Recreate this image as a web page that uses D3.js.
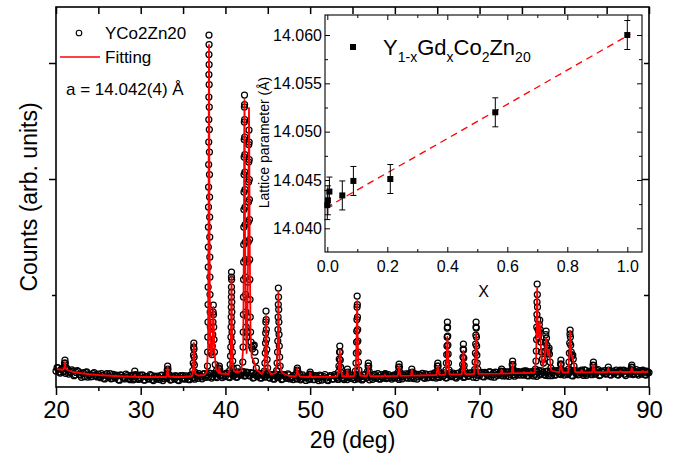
<!DOCTYPE html>
<html><head><meta charset="utf-8">
<script src="https://cdn.jsdelivr.net/npm/d3@7"></script>
<style>
body{margin:0;background:#fff}
svg{display:block}
text{font-family:"Liberation Sans",Arial,Helvetica,sans-serif;fill:#000}
</style>
</head><body>
<svg id="chart" width="679" height="465"></svg>
<script>
// ---------- main XRD pattern data ----------
const xMajorTicks = [20, 30, 40, 50, 60, 70, 80, 90];
const xMinorTicks = [25, 35, 45, 55, 65, 75, 85];
const xTopTicks = [20, 25, 30, 35, 40, 45, 50, 55, 60, 65, 70, 75, 80, 85, 90];
const yMajorTicks = [4160, 6480];
const yMinorTicks = [1840];

// observed background scan (2θ from scanStart in steps of scanStep), counts
const scanStart = 20, scanStep = 0.25;
const bgCounts = [
 320,385,280,355,320,380,260,310,320,244,328,251,195,280,295,200,255,211,287,223,
 260,187,235,162,270,207,165,252,180,228,136,234,182,260,198,146,215,163,232,151,
 180,240,140,210,160,230,130,200,220,150,240,170,190,250,140,220,160,210,130,230,
 230,162,205,147,230,185,260,175,240,165,270,225,200,270,210,260,190,290,230,220,
 210,270,190,280,230,200,300,240,290,220,300,230,290,180,245,210,275,180,240,210,
 260,180,228,156,244,192,260,158,226,174,242,190,148,226,165,254,173,202,131,220,
 170,240,150,210,130,220,180,250,140,200,230,160,222,154,246,178,150,220,190,240,
 230,150,241,181,212,162,253,193,144,224,245,175,266,156,207,237,168,248,189,219,
 180,231,152,253,204,265,176,227,248,169,260,201,222,273,174,245,196,257,188,269,
 250,191,272,223,184,265,286,207,248,179,280,241,302,203,264,225,276,197,298,239,
 230,291,202,273,224,305,246,197,288,259,320,221,272,303,214,295,246,317,238,289,
 300,240,321,221,282,312,253,213,334,264,295,235,316,276,227,327,248,308,259,289,
 240,310,271,331,222,302,323,253,294,234,335,265,316,246,307,277,348,238,299,329,
 270,340,240,320,290,250,330,280,340,230,310,260,320,270,350,240,300,330,250,310,
 290
];
// interleaved scan points (2θ from scanStart2 in steps of scanStep), counts
const scanStart2 = 20.125;
const bgCounts2 = [
 387,302,357,312,275,345,295,345,227,291,314,238,282,207,302,237,203,269,235,201,
 208,266,173,241,208,266,173,221,239,147,245,193,161,229,167,235,144,212,171,240,
 240,140,210,170,250,150,220,160,190,230,130,210,180,240,150,200,230,140,220,170,
 161,223,156,238,192,157,232,267,202,257,192,247,280,180,270,210,290,230,190,260,
 280,200,270,230,290,195,265,245,310,230,285,225,275,188,272,228,182,270,200,250,
 190,249,167,265,193,231,149,247,195,263,161,209,237,165,224,143,242,181,210,150,
 220,150,230,170,240,140,210,180,130,230,160,250,191,153,225,177,249,150,210,170,
 190,250,161,221,142,242,183,233,204,154,255,195,166,246,177,267,188,218,159,239,
 250,181,242,163,234,195,266,177,208,259,160,251,232,193,264,185,246,207,278,179,
 200,261,212,283,184,245,226,277,198,269,220,301,192,263,214,285,246,297,188,279,
 280,211,292,243,304,205,276,297,228,259,240,311,222,293,254,325,216,277,308,239,
 250,320,231,301,262,222,313,293,244,324,255,305,226,316,287,237,328,268,249,319,
 320,250,301,231,332,272,243,313,264,344,235,295,276,336,257,327,228,318,289,259,
 320,250,310,270,340,240,300,330,260,320,280,350,250,310,270,330,260,320,240,300
];

// observed points on the Bragg peaks [2θ, counts]
const peakObs = [
 [20.95,400],[21.0,480],[21.06,540],[21.1,480],[21.16,390],
 [29.2,240],[29.3,320],[29.4,250],
 [33.08,260],[33.13,340],[33.18,420],[33.22,360],[33.28,260],
 [36.15,330],[36.2,480],[36.23,640],[36.25,800],[36.27,880],[36.29,760],[36.31,600],[36.34,440],[36.4,300],
 [37.88,420],[37.9,700],[37.92,1000],[37.94,1300],[37.95,1650],[37.96,2000],[37.97,2400],[37.98,2800],[37.99,3200],
 [38.0,3600],[38.01,4000],[38.02,4450],[38.03,4900],[38.04,5350],[38.045,5800],[38.05,6250],[38.055,6650],[38.06,7040],
 [38.07,6850],[38.075,6450],[38.08,6050],[38.09,5600],[38.1,5150],[38.11,4700],[38.12,4250],[38.13,3800],[38.14,3400],
 [38.15,3000],[38.16,2600],[38.17,2200],[38.18,1850],[38.2,1500],[38.22,1200],[38.25,900],[38.3,700],
 [38.4,650],[38.45,820],[38.5,1050],[38.53,1300],[38.55,1500],[38.57,1640],[38.59,1450],[38.62,1200],[38.65,950],[38.7,700],[38.8,450],[38.95,330],
 [39.18,300],[39.24,380],[39.28,420],[39.33,350],
 [40.5,330],[40.56,450],[40.6,620],[40.63,800],[40.65,1000],[40.67,1200],[40.68,1400],[40.69,1600],[40.7,1800],[40.71,2000],[40.715,2200],[40.72,2300],
 [40.73,2150],[40.74,1900],[40.75,1700],[40.76,1500],[40.77,1300],[40.78,1100],[40.8,900],[40.82,700],[40.86,520],[40.92,380],
 [41.32,280],[41.4,380],[41.47,300],
 [42.05,500],[42.08,800],[42.1,1100],[42.12,1450],[42.13,1800],[42.14,2150],[42.15,2500],[42.16,2850],[42.17,3200],[42.18,3550],
 [42.19,3900],[42.2,4250],[42.21,4600],[42.22,4950],[42.23,5300],[42.24,5600],[42.25,5840],
 [42.26,5650],[42.27,5350],[42.28,5000],[42.29,4650],[42.3,4300],[42.31,3950],[42.32,3600],[42.33,3250],[42.34,2900],[42.35,2550],
 [42.37,2200],[42.39,1850],[42.42,1500],[42.45,1200],[42.5,1000],
 [42.55,1100],[42.6,1400],[42.63,1750],[42.65,2100],[42.67,2500],[42.69,2900],[42.7,3300],[42.72,3700],[42.73,4100],[42.75,4500],[42.76,4850],[42.78,5140],
 [42.8,4900],[42.81,4550],[42.82,4150],[42.83,3750],[42.84,3350],[42.85,2950],[42.86,2550],[42.88,2150],[42.9,1750],[42.93,1400],[42.97,1100],[43.02,900],
 [43.1,800],[43.2,760],[43.3,820],[43.4,840],[43.48,700],[43.55,520],[43.65,380],
 [44.6,320],[44.66,480],[44.7,680],[44.73,880],[44.75,1080],[44.77,1300],[44.79,1520],[44.81,1350],[44.83,1150],[44.85,950],[44.88,750],[44.92,550],[44.98,380],
 [46.05,330],[46.1,480],[46.15,700],[46.18,920],[46.2,1150],[46.22,1400],[46.24,1650],[46.25,1980],[46.27,1800],[46.29,1550],[46.31,1300],[46.33,1050],[46.36,820],[46.4,600],[46.46,420],
 [48.4,280],[48.46,340],[48.49,380],[48.54,320],
 [49.95,260],[50.0,300],[50.05,250],
 [53.35,300],[53.4,420],[53.44,560],[53.47,700],[53.5,820],[53.53,700],[53.56,540],[53.6,400],[53.66,290],
 [54.32,290],[54.4,360],[54.47,300],
 [55.35,320],[55.41,480],[55.45,680],[55.48,900],[55.5,1120],[55.52,1350],[55.54,1600],[55.55,1820],[55.57,1650],[55.59,1400],[55.61,1150],[55.63,920],[55.66,700],[55.7,500],[55.76,340],
 [56.78,320],[56.83,420],[56.87,480],[56.91,420],[56.96,320],
 [58.8,240],[58.84,260],[58.9,230],
 [60.4,300],[60.45,400],[60.5,460],[60.54,400],[60.6,300],
 [61.92,290],[62.0,360],[62.07,300],
 [64.97,320],[65.02,420],[65.07,480],[65.11,420],[65.17,320],
 [66.02,340],[66.08,480],[66.12,650],[66.15,820],[66.17,1000],[66.19,1180],[66.2,1300],[66.22,1200],[66.24,1020],[66.26,840],[66.29,660],[66.33,480],[66.4,340],
 [67.95,330],[68.0,450],[68.04,600],[68.07,760],[68.09,860],[68.11,740],[68.14,580],[68.18,430],[68.25,320],
 [69.42,350],[69.47,500],[69.51,680],[69.54,860],[69.56,1040],[69.58,1200],[69.59,1300],[69.61,1180],[69.63,1000],[69.65,820],[69.68,640],[69.72,480],[69.78,360],
 [72.52,300],[72.6,360],[72.67,310],
 [73.8,340],[73.85,450],[73.9,520],[73.94,450],[74.0,340],
 [75.15,290],[75.2,320],[75.26,290],
 [76.6,360],[76.66,520],[76.7,720],[76.73,950],[76.75,1200],[76.77,1450],[76.78,1700],[76.8,2060],[76.82,1850],[76.84,1600],[76.86,1350],[76.9,1150],
 [76.95,1000],[77.0,1100],[77.05,1250],[77.1,1340],[77.15,1150],[77.22,900],[77.3,700],[77.4,560],[77.55,480],[77.65,560],[77.72,720],[77.77,900],
 [77.82,1050],[77.85,1120],[77.9,980],[77.95,840],[78.02,720],[78.1,680],[78.15,740],[78.2,780],[78.25,660],[78.32,500],[78.42,380],
 [79.5,340],[79.55,460],[79.6,540],[79.64,460],[79.7,340],
 [80.5,360],[80.56,500],[80.6,680],[80.64,880],[80.67,1060],[80.69,1140],[80.72,1000],[80.76,840],[80.82,700],[80.9,620],[81.0,640],[81.06,560],[81.14,420],[81.25,320],
 [81.98,300],[82.06,340],[82.12,300],
 [83.34,330],[83.39,440],[83.44,500],[83.48,430],[83.54,330],
 [85.12,330],[85.2,400],[85.27,330],
 [86.52,310],[86.6,340],[86.67,310],
 [87.88,330],[87.93,400],[87.97,440],[88.02,390],[88.08,320],
 [89.2,310],[89.27,340],[89.33,310],
 [89.68,300],[89.74,320],[89.8,300]
];

// calculated (fitting) profile [2θ, counts]
const fitCalc = [
 [20.0,360],[20.5,350],[20.8,345],[20.98,380],[21.03,440],[21.06,500],[21.09,440],[21.14,375],[21.4,335],[22,300],[23,275],[24,255],
 [25,240],[26,230],[27,220],[28,212],[29,205],[29.2,205],[29.3,240],[29.4,205],[30,200],[31,200],[32,200],[33,200],
 [33.05,210],[33.13,290],[33.18,400],[33.23,290],[33.32,210],[34,200],[35,200],[36,215],[36.1,240],[36.2,400],[36.24,700],[36.27,880],
 [36.3,700],[36.34,400],[36.45,260],[36.8,230],[37.5,240],[37.8,300],[37.95,800],[38.01,3500],[38.04,6000],[38.06,6840],[38.08,6000],
 [38.11,3500],[38.18,1000],[38.3,600],[38.45,800],[38.52,1200],[38.57,1600],[38.62,1200],[38.7,700],[38.9,350],[39.2,280],[39.25,340],
 [39.28,400],[39.31,340],[39.4,270],[40.4,260],[40.6,500],[40.67,1200],[40.72,2200],[40.77,1200],[40.85,500],[41.0,320],[41.3,290],
 [41.4,340],[41.5,290],[41.9,330],[42.1,800],[42.18,3000],[42.22,5000],[42.25,5740],[42.28,5000],[42.32,3000],[42.42,1200],[42.5,680],
 [42.58,1100],[42.7,3000],[42.75,5000],[42.78,5580],[42.81,5000],[42.86,3000],[42.96,1100],[43.1,600],[43.4,500],[43.6,350],[44.3,260],
 [44.6,360],[44.72,800],[44.79,1420],[44.86,800],[45.0,360],[45.4,250],[45.9,280],[46.1,500],[46.2,1100],[46.25,1900],[46.3,1100],
 [46.4,500],[46.7,280],[47.5,220],[48.3,210],[48.42,280],[48.49,380],[48.56,280],[48.8,210],[49.9,200],[50.0,280],[50.1,200],
 [53.2,210],[53.4,380],[53.46,580],[53.5,740],[53.54,580],[53.6,380],[53.8,220],[54.3,210],[54.4,340],[54.5,210],[55.2,220],
 [55.42,500],[55.5,1100],[55.55,1720],[55.6,1100],[55.68,500],[55.9,230],[56.7,215],[56.8,300],[56.87,420],[56.94,300],[57.1,215],
 [58.75,218],[58.84,240],[58.93,218],[60.35,222],[60.45,340],[60.5,420],[60.55,340],[60.65,222],[61.9,228],[62.0,340],[62.1,228],
 [64.9,240],[65.0,340],[65.07,420],[65.14,340],[65.25,242],[65.95,245],[66.1,500],[66.16,800],[66.2,1000],[66.24,800],[66.3,500],
 [66.45,250],[67.9,255],[68.02,450],[68.06,620],[68.09,720],[68.12,620],[68.16,450],[68.3,255],[69.35,260],[69.5,560],[69.55,850],
 [69.59,1060],[69.63,850],[69.68,560],[69.85,262],[72.5,268],[72.6,340],[72.7,268],[73.8,275],[73.86,400],[73.9,480],[73.94,400],
 [74.0,276],[75.12,280],[75.2,300],[75.28,280],[76.5,285],[76.68,600],[76.75,1300],[76.8,1980],[76.85,1300],[76.95,1000],[77.05,1200],
 [77.1,1300],[77.15,1100],[77.3,600],[77.5,430],[77.7,600],[77.8,850],[77.85,980],[77.9,850],[78.05,640],[78.15,700],[78.2,740],
 [78.25,640],[78.45,330],[79.4,290],[79.52,380],[79.6,480],[79.68,380],[79.8,290],[80.45,290],[80.6,650],[80.65,950],[80.69,1120],
 [80.74,900],[80.85,620],[80.95,580],[81.0,600],[81.08,500],[81.3,300],[81.95,294],[82.06,340],[82.15,294],[83.3,296],[83.38,380],
 [83.44,440],[83.5,380],[83.6,297],[85.1,300],[85.2,380],[85.3,300],[86.5,300],[86.6,320],[86.7,300],[87.85,300],[87.92,350],
 [87.97,380],[88.02,350],[88.1,300],[89.18,300],[89.27,320],[89.35,300],[89.65,300],[89.74,310],[89.82,300],[90,300]
];

const legendLabels = ["YCo2Zn20", "Fitting"];
const latticeNote = "a = 14.042(4) Å";
const xTitle = "2θ (deg)";
const yTitle = "Counts (arb. units)";

// ---------- inset data ----------
const gdX = [0, 0.002, 0.007, 0.05, 0.087, 0.21, 0.56, 1.0];
const latA = [14.0424, 14.0429, 14.0438, 14.0434, 14.0449, 14.0451, 14.0520, 14.0600];
const latErr = [0.0015, 0.0015, 0.0015, 0.0015, 0.0015, 0.0015, 0.0015, 0.0015];
const linFitX = [-0.005, 1.01];
const linFitA = [14.04211, 14.06009];
const insetXTicks = [0, 0.2, 0.4, 0.6, 0.8, 1.0];
const insetXMinor = [0.1, 0.3, 0.5, 0.7, 0.9];
const insetYTicks = [14.040, 14.045, 14.050, 14.055, 14.060];
const insetYMinor = [14.0425, 14.0475, 14.0525, 14.0575];

// ---------- drawing ----------
const svg = d3.select("#chart");
svg.append("rect").attr("width", 679).attr("height", 465).attr("fill", "#fff");

const L = 56, R = 649, T = 7, B = 387;
const x = d3.scaleLinear().domain([20, 90]).range([L, R]);
const y = d3.scaleLinear().domain([0, 7600]).range([B, T]);

const obsPts = bgCounts.map((c, i) => [scanStart + i * scanStep, c])
  .concat(bgCounts2.map((c, i) => [scanStart2 + i * scanStep, c]))
  .concat(peakObs);

const gData = svg.append("g");
gData.selectAll("circle.obs").data(obsPts).enter().append("circle")
  .attr("class", "obs")
  .attr("cx", d => x(d[0])).attr("cy", d => y(d[1])).attr("r", 3)
  .attr("fill", "none").attr("stroke", "#000").attr("stroke-width", 1.25);

gData.append("path").datum(fitCalc)
  .attr("d", d3.line().x(d => x(d[0])).y(d => y(d[1])))
  .attr("fill", "none").attr("stroke", "#ff0000").attr("stroke-width", 1.8)
  .attr("stroke-linejoin", "round");

// axes main
function styleAxis(g) {
  g.select(".domain").remove();
  g.selectAll(".tick line").attr("stroke", "#000").attr("stroke-width", 1.5);
}
svg.append("g").attr("transform", `translate(0,${B})`)
  .call(d3.axisBottom(x).tickValues(xMajorTicks).tickSize(8).tickPadding(6).tickFormat(d3.format("d")))
  .call(styleAxis)
  .call(g => g.selectAll("text").attr("font-size", 24).attr("font-family", "Liberation Sans, Arial, sans-serif"));
svg.append("g").attr("transform", `translate(0,${B})`)
  .call(d3.axisBottom(x).tickValues(xMinorTicks).tickSize(4).tickFormat(""))
  .call(styleAxis);
svg.append("g").attr("transform", `translate(0,${T})`)
  .call(d3.axisBottom(x).tickValues(xTopTicks).tickSize(7).tickFormat(""))
  .call(styleAxis);
svg.append("g").attr("transform", `translate(${L},0)`)
  .call(d3.axisLeft(y).tickValues(yMajorTicks).tickSize(7).tickFormat(""))
  .call(styleAxis);
svg.append("g").attr("transform", `translate(${L},0)`)
  .call(d3.axisLeft(y).tickValues(yMinorTicks).tickSize(4).tickFormat(""))
  .call(styleAxis);
svg.append("g").attr("transform", `translate(${R},0)`)
  .call(d3.axisLeft(y).tickValues([4160]).tickSize(7).tickFormat(""))
  .call(styleAxis);
svg.append("g").attr("transform", `translate(${R},0)`)
  .call(d3.axisLeft(y).tickValues([1840, 6480]).tickSize(5).tickFormat(""))
  .call(styleAxis);

svg.append("rect").attr("x", L).attr("y", T).attr("width", R - L).attr("height", B - T)
  .attr("fill", "none").attr("stroke", "#000").attr("stroke-width", 1.6);

svg.append("text").attr("x", (L + R) / 2).attr("y", 448).attr("text-anchor", "middle")
  .attr("font-size", 23).text(xTitle);
svg.append("text").attr("transform", `translate(29,${(T + B) / 2}) rotate(-90)`)
  .attr("text-anchor", "middle").attr("dy", "0.35em").attr("font-size", 23).text(yTitle);

// legend
svg.append("circle").attr("cx", 79).attr("cy", 33).attr("r", 2.8)
  .attr("fill", "none").attr("stroke", "#000").attr("stroke-width", 1.1);
svg.append("text").attr("x", 105).attr("y", 39).attr("font-size", 17).text(legendLabels[0]);
svg.append("line").attr("x1", 60).attr("x2", 100).attr("y1", 57).attr("y2", 57)
  .attr("stroke", "#ff0000").attr("stroke-width", 1.5);
svg.append("text").attr("x", 105).attr("y", 63).attr("font-size", 17).text(legendLabels[1]);
svg.append("text").attr("x", 66).attr("y", 95).attr("font-size", 17).text(latticeNote);

// ---------- inset ----------
const iL = 325, iR = 642, iT = 15, iB = 252;
const xi = d3.scaleLinear().domain([0, 1]).range([327.3, 627.3]);
const yi = d3.scaleLinear().domain([14.040, 14.060]).range([228.3, 35]);
const gi = svg.append("g");
gi.append("rect").attr("x", iL).attr("y", iT).attr("width", iR - iL).attr("height", iB - iT)
  .attr("fill", "#fff").attr("stroke", "none");

function styleInset(g) {
  g.select(".domain").remove();
  g.selectAll(".tick line").attr("stroke", "#000").attr("stroke-width", 1);
  g.selectAll("text").attr("font-size", 16).attr("font-family", "Liberation Sans, Arial, sans-serif");
}
// inward ticks
gi.append("g").attr("transform", `translate(0,${iB})`)
  .call(d3.axisTop(xi).tickValues(insetXTicks).tickSize(5).tickFormat("")).call(styleInset);
gi.append("g").attr("transform", `translate(0,${iB})`)
  .call(d3.axisTop(xi).tickValues(insetXMinor).tickSize(3).tickFormat("")).call(styleInset);
gi.append("g").attr("transform", `translate(0,${iT})`)
  .call(d3.axisBottom(xi).tickValues(insetXTicks).tickSize(5).tickFormat("")).call(styleInset);
gi.append("g").attr("transform", `translate(0,${iT})`)
  .call(d3.axisBottom(xi).tickValues(insetXMinor).tickSize(3).tickFormat("")).call(styleInset);
gi.append("g").attr("transform", `translate(${iL},0)`)
  .call(d3.axisRight(yi).tickValues(insetYTicks).tickSize(5).tickFormat("")).call(styleInset);
gi.append("g").attr("transform", `translate(${iL},0)`)
  .call(d3.axisRight(yi).tickValues(insetYMinor).tickSize(3).tickFormat("")).call(styleInset);
gi.append("g").attr("transform", `translate(${iR},0)`)
  .call(d3.axisLeft(yi).tickValues(insetYTicks).tickSize(5).tickFormat("")).call(styleInset);
gi.append("g").attr("transform", `translate(${iR},0)`)
  .call(d3.axisLeft(yi).tickValues(insetYMinor).tickSize(3).tickFormat("")).call(styleInset);
// labels
gi.append("g").attr("transform", `translate(0,${iB})`)
  .call(d3.axisBottom(xi).tickValues(insetXTicks).tickSize(0).tickPadding(9).tickFormat(d3.format(".1f")))
  .call(styleInset);
gi.append("g").attr("transform", `translate(${iL},0)`)
  .call(d3.axisLeft(yi).tickValues(insetYTicks).tickSize(0).tickPadding(3).tickFormat(d3.format(".3f")))
  .call(styleInset);

gi.append("rect").attr("x", iL).attr("y", iT).attr("width", iR - iL).attr("height", iB - iT)
  .attr("fill", "none").attr("stroke", "#000").attr("stroke-width", 1.1);

// linear fit dashed
gi.append("path").datum(linFitX.map((v, i) => [v, linFitA[i]]))
  .attr("d", d3.line().x(d => xi(d[0])).y(d => yi(d[1])))
  .attr("fill", "none").attr("stroke", "#ff0000").attr("stroke-width", 1.3)
  .attr("stroke-dasharray", "7,5");

// error bars
const pts = gdX.map((v, i) => ({x: v, a: latA[i], e: latErr[i]}));
const eb = gi.selectAll("g.eb").data(pts).enter().append("g");
eb.append("line").attr("x1", d => xi(d.x)).attr("x2", d => xi(d.x))
  .attr("y1", d => yi(d.a - d.e)).attr("y2", d => yi(d.a + d.e)).attr("stroke", "#000").attr("stroke-width", 1);
eb.append("line").attr("x1", d => xi(d.x) - 3).attr("x2", d => xi(d.x) + 3)
  .attr("y1", d => yi(d.a - d.e)).attr("y2", d => yi(d.a - d.e)).attr("stroke", "#000").attr("stroke-width", 1);
eb.append("line").attr("x1", d => xi(d.x) - 3).attr("x2", d => xi(d.x) + 3)
  .attr("y1", d => yi(d.a + d.e)).attr("y2", d => yi(d.a + d.e)).attr("stroke", "#000").attr("stroke-width", 1);
eb.append("rect").attr("x", d => xi(d.x) - 3).attr("y", d => yi(d.a) - 3)
  .attr("width", 6).attr("height", 6).attr("fill", "#000");

// inset titles
gi.append("text").attr("x", (iL + iR) / 2).attr("y", 297).attr("text-anchor", "middle")
  .attr("font-size", 16).text("X");
gi.append("text").attr("transform", `translate(264,142.5) rotate(-90)`)
  .attr("text-anchor", "middle").attr("dy", "0.35em").attr("font-size", 14).text("Lattice parameter (Å)");

// inset legend
gi.append("rect").attr("x", 350).attr("y", 44).attr("width", 6).attr("height", 6).attr("fill", "#000");
const lt = gi.append("text").attr("x", 383).attr("y", 55).attr("font-size", 22);
lt.append("tspan").text("Y");
lt.append("tspan").attr("font-size", 14).attr("dy", 7).text("1-x");
lt.append("tspan").attr("dy", -7).text("Gd");
lt.append("tspan").attr("font-size", 14).attr("dy", 7).text("x");
lt.append("tspan").attr("dy", -7).text("Co");
lt.append("tspan").attr("font-size", 14).attr("dy", 7).text("2");
lt.append("tspan").attr("dy", -7).text("Zn");
lt.append("tspan").attr("font-size", 14).attr("dy", 7).text("20");
</script>
</body></html>
